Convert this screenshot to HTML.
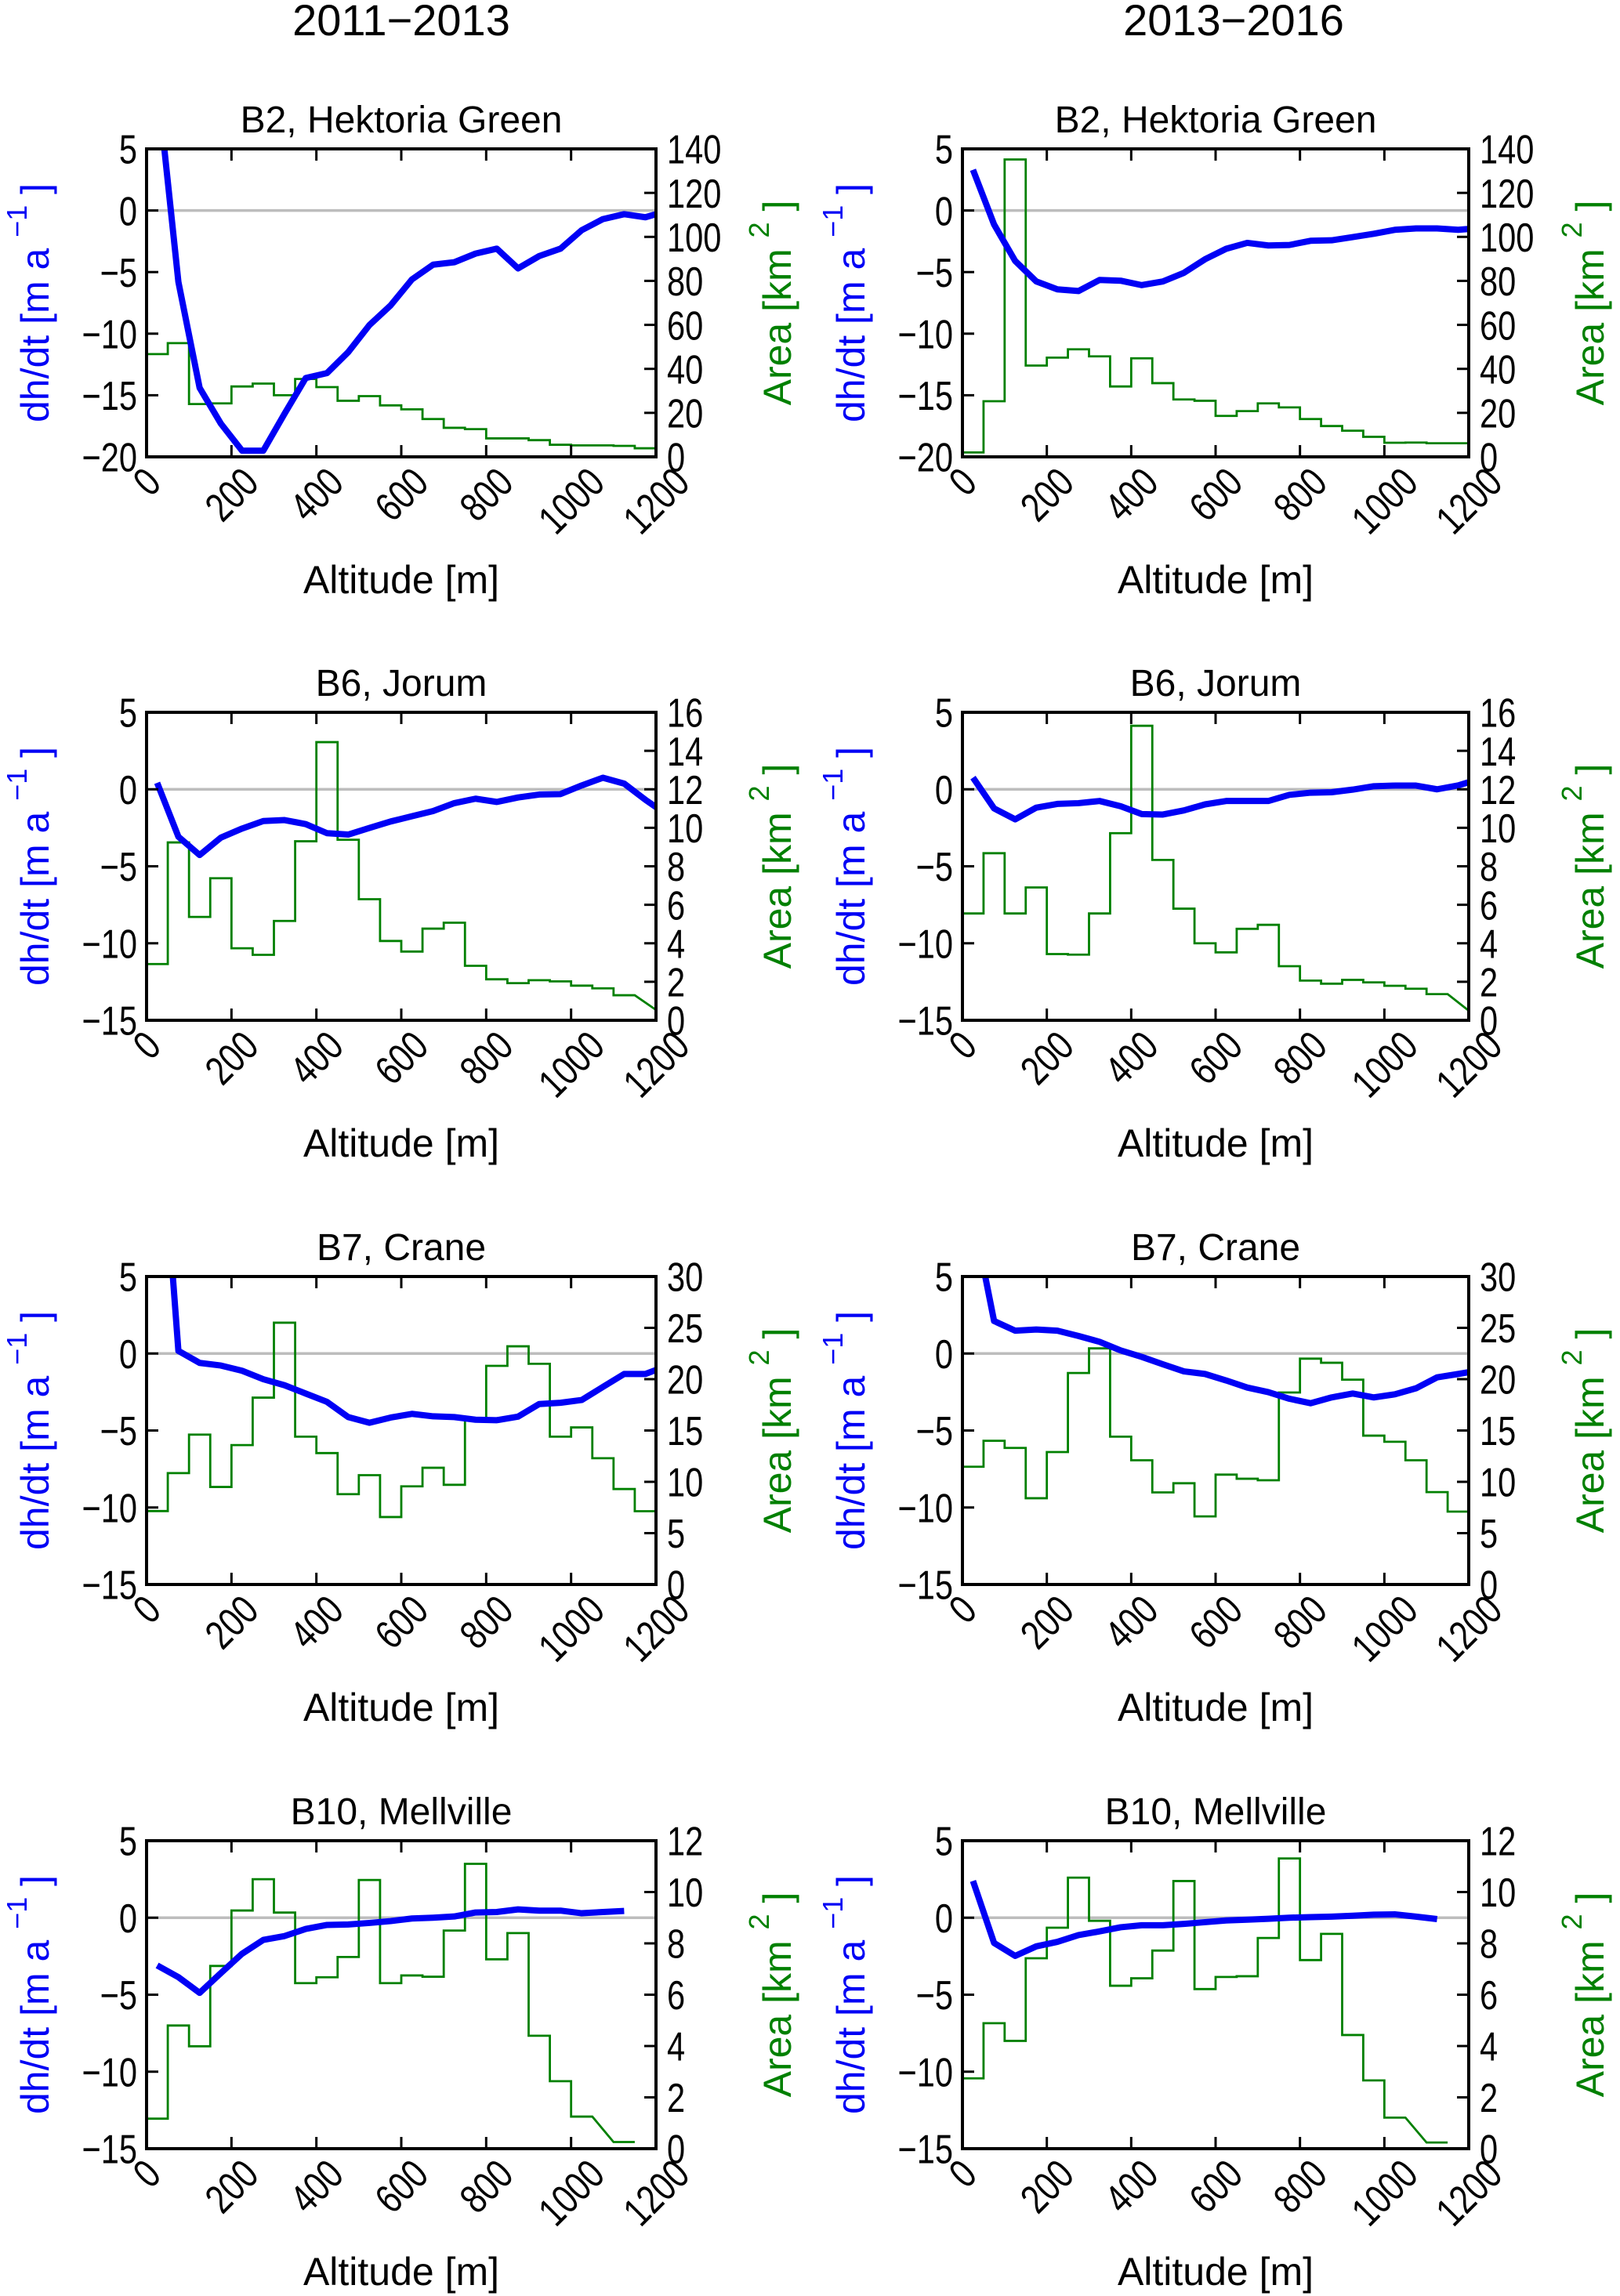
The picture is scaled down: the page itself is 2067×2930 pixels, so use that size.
<!DOCTYPE html>
<html><head><meta charset="utf-8"><title>dh/dt and area vs altitude</title>
<style>html,body{margin:0;padding:0;background:#fff}svg{display:block}text{font-family:"Liberation Sans",Arial,sans-serif}</style>
</head><body>
<svg id="fig" xmlns="http://www.w3.org/2000/svg" width="2067" height="2930" viewBox="0 0 2067 2930">
<rect width="2067" height="2930" fill="#fff"/>
<text x="512" y="45" font-size="56" text-anchor="middle">2011−2013</text>
<text x="1574" y="45" font-size="56" text-anchor="middle">2013−2016</text>
</svg>
<script>
const xTicks = [0,200,400,600,800,1000,1200];
const b2L_dh = [10.5,-5.8,-14.4,-17.3,-19.5,-19.5,-16.5,-13.6,-13.2,-11.5,-9.3,-7.7,-5.6,-4.4,-4.2,-3.5,-3.1,-4.7,-3.7,-3.1,-1.6,-0.7,-0.3,-0.55,-0.05];
const b2L_area = [46.7,51.7,24,24.3,32,33.3,28,35.4,31.7,25.5,27.6,23.4,21.6,17.2,13.2,12.6,8.4,8.4,7.6,5.5,5.2,5.2,5,3.9];
const b2R_dh = [3.3,-1.14,-4.1,-5.76,-6.4,-6.54,-5.64,-5.7,-6.06,-5.76,-5.06,-3.96,-3.11,-2.63,-2.84,-2.8,-2.46,-2.42,-2.16,-1.89,-1.57,-1.46,-1.46,-1.57,-1.43];
const b2R_area = [2.0,25.3,135.2,41.5,45.1,48.9,45.7,32,44.8,33.5,26.1,25.5,18.6,20.8,24.3,22.5,17.2,14,11.9,9.1,6.4,6.5,6.2,6.2];
const b6L_dh = [0.42,-3.08,-4.27,-3.14,-2.55,-2.06,-2.0,-2.26,-2.85,-2.94,-2.51,-2.09,-1.75,-1.41,-0.9,-0.61,-0.82,-0.53,-0.34,-0.31,0.25,0.75,0.37,-0.68,-1.64];
const b6L_area = [2.92,9.24,5.37,7.38,3.74,3.4,5.16,9.3,14.45,9.38,6.29,4.12,3.57,4.76,5.07,2.83,2.13,1.93,2.08,2.02,1.8,1.66,1.3,null];
const b6L_areaEnd = [0.54];
const b6R_dh = [0.76,-1.24,-1.95,-1.19,-0.95,-0.9,-0.76,-1.1,-1.61,-1.64,-1.37,-0.98,-0.76,-0.76,-0.76,-0.36,-0.22,-0.19,-0.02,0.2,0.24,0.24,0,0.25,0.67];
const b6R_area = [5.55,8.68,5.55,6.9,3.44,3.41,5.55,9.72,15.3,8.33,5.8,4.0,3.53,4.75,4.96,2.81,2.06,1.9,2.1,1.97,1.79,1.64,1.36,null];
const b6R_areaEnd = [0.5];
const b7L_dh = [18.6,0.17,-0.61,-0.78,-1.12,-1.67,-2.06,-2.6,-3.14,-4.13,-4.5,-4.16,-3.92,-4.08,-4.13,-4.3,-4.33,-4.1,-3.28,-3.2,-3.02,-2.17,-1.33,-1.33,-0.81];
const b7L_area = [7.15,10.85,14.6,9.5,13.58,18.2,25.5,14.4,12.8,8.8,10.65,6.57,9.56,11.37,9.71,16.1,21.3,23.2,21.5,14.4,15.3,12.3,9.3,7.14];
const b7R_dh = [9.0,2.11,1.48,1.56,1.48,1.14,0.76,0.2,-0.22,-0.7,-1.16,-1.33,-1.75,-2.21,-2.51,-2.94,-3.23,-2.85,-2.6,-2.85,-2.65,-2.26,-1.55,-1.33,-1.09];
const b7R_area = [11.47,14,13.3,8.4,12.9,20.6,23,14.4,12.1,8.97,9.86,6.63,10.7,10.3,10.15,18.7,22,21.6,19.95,14.5,13.9,12.1,9.0,7.1];
const b10L_dh = [-3.1,-3.86,-4.88,-3.6,-2.34,-1.44,-1.19,-0.73,-0.47,-0.44,-0.34,-0.22,-0.05,0,0.08,0.34,0.37,0.54,0.46,0.46,0.29,0.37,0.44];
const b10L_area = [1.17,4.8,3.99,7.12,9.28,10.5,9.2,6.45,6.68,7.47,10.47,6.45,6.75,6.7,8.5,11.1,7.38,8.4,4.4,2.63,1.25,null,0.26];
const b10R_dh = [2.39,-1.64,-2.48,-1.86,-1.57,-1.13,-0.89,-0.62,-0.49,-0.49,-0.4,-0.29,-0.18,-0.13,-0.07,0,0.04,0.07,0.13,0.2,0.22,0.07,-0.09];
const b10R_area = [2.74,4.89,4.2,7.42,8.61,10.56,8.88,6.35,6.64,7.72,10.43,6.22,6.69,6.72,8.21,11.31,7.35,8.37,4.43,2.66,1.21,null,0.24];

const NS = 'http://www.w3.org/2000/svg';
const svg = document.getElementById('fig');
function mk(tag, attrs, parent) {
  const e = document.createElementNS(NS, tag);
  for (const k in attrs) e.setAttribute(k, attrs[k]);
  (parent || svg).appendChild(e);
  return e;
}
const panels = [
  {id:'b2-2011', title:'B2, Hektoria Green', x0:187, y0:190, w:650, dh:b2L_dh, area:b2L_area, end:null, lmin:-20, rmax:140, rstep:20},
  {id:'b2-2013', title:'B2, Hektoria Green', x0:1228, y0:190, w:646, dh:b2R_dh, area:b2R_area, end:null, lmin:-20, rmax:140, rstep:20},
  {id:'b6-2011', title:'B6, Jorum', x0:187, y0:909, w:650, dh:b6L_dh, area:b6L_area, end:b6L_areaEnd, lmin:-15, rmax:16, rstep:2},
  {id:'b6-2013', title:'B6, Jorum', x0:1228, y0:909, w:646, dh:b6R_dh, area:b6R_area, end:b6R_areaEnd, lmin:-15, rmax:16, rstep:2},
  {id:'b7-2011', title:'B7, Crane', x0:187, y0:1629, w:650, dh:b7L_dh, area:b7L_area, end:null, lmin:-15, rmax:30, rstep:5},
  {id:'b7-2013', title:'B7, Crane', x0:1228, y0:1629, w:646, dh:b7R_dh, area:b7R_area, end:null, lmin:-15, rmax:30, rstep:5},
  {id:'b10-2011', title:'B10, Mellville', x0:187, y0:2349, w:650, dh:b10L_dh, area:b10L_area, end:null, lmin:-15, rmax:12, rstep:2},
  {id:'b10-2013', title:'B10, Mellville', x0:1228, y0:2349, w:646, dh:b10R_dh, area:b10R_area, end:null, lmin:-15, rmax:12, rstep:2}
];
const H = 393, FS = 52, SX = 0.8, TL = 15;
panels.forEach((p, pi) => {
  const g = mk('g', {});
  
  
  const x0 = p.x0, y0 = p.y0, w = p.w, x1 = x0 + w, y1 = y0 + H;
  const sx = v => x0 + v / 1200 * w;
  const syL = v => y1 - (v - p.lmin) / (5 - p.lmin) * H;
  const syR = v => y1 - v / p.rmax * H;
  const cp = mk('clipPath', {id: 'clip' + pi}, g);
  mk('rect', {x: x0, y: y0, width: w, height: H}, cp);
  const z = mk('line', {x1: x0, x2: x1, y1: syL(0), y2: syL(0), stroke: '#bdbdbd', 'stroke-width': 3.5}, g);
  
  
  let pts = [];
  p.area.forEach((v, i) => {
    if (v === null) return;
    pts.push([sx(i * 50), syR(v)]);
    pts.push([sx((i + 1) * 50), syR(v)]);
  });
  if (p.area[p.area.length - 1] === null && p.end) pts.push([sx(1200), syR(p.end[0])]);
  const ga = mk('polyline', {points: pts.map(q => q.join(',')).join(' '), fill: 'none', stroke: '#008000', 'stroke-width': 2.8}, g);
  
  
  const bp = p.dh.map((v, i) => [sx(25 + 50 * i), syL(v)]);
  const bl = mk('polyline', {points: bp.map(q => q.join(',')).join(' '), fill: 'none', stroke: '#0000f5', 'stroke-width': 8, 'stroke-linejoin': 'round', 'clip-path': 'url(#clip' + pi + ')'}, g);
  
  
  const fr = mk('rect', {x: x0, y: y0, width: w, height: H, fill: 'none', stroke: '#000', 'stroke-width': 4}, g);
  
  
  xTicks.forEach(t => {
    const x = sx(t);
    mk('line', {x1: x, x2: x, y1: y1, y2: y1 - TL, stroke: '#000', 'stroke-width': 3}, g);
    mk('line', {x1: x, x2: x, y1: y0, y2: y0 + TL, stroke: '#000', 'stroke-width': 3}, g);
    const s = String(t);
    const tw = s.length * 0.556 * FS * SX, th = 0.72 * FS;
    const cy = y1 + 10 + (tw + th) * 0.707 / 2;
    const tx = mk('text', {x: 0, y: 0, 'font-size': FS, 'text-anchor': 'middle', 'dominant-baseline': 'central', transform: 'translate(' + x + ' ' + cy + ') rotate(-45) scale(' + SX + ' 1)'}, g);
    
    
    tx.textContent = s;
  });
  for (let v = p.lmin; v <= 5; v += 5) {
    const y = syL(v);
    mk('line', {x1: x0, x2: x0 + TL, y1: y, y2: y, stroke: '#000', 'stroke-width': 3}, g);
    const tx = mk('text', {x: 0, y: 0, 'font-size': FS, 'text-anchor': 'end', transform: 'translate(' + (x0 - 12) + ' ' + (y + 0.36 * FS) + ') scale(' + SX + ' 1)'}, g);
    
    
    tx.textContent = v < 0 ? '−' + (-v) : String(v);
  }
  for (let v = 0; v <= p.rmax; v += p.rstep) {
    const y = syR(v);
    mk('line', {x1: x1, x2: x1 - TL, y1: y, y2: y, stroke: '#000', 'stroke-width': 3}, g);
    const tx = mk('text', {x: 0, y: 0, 'font-size': FS, transform: 'translate(' + (x1 + 14) + ' ' + (y + 0.36 * FS) + ') scale(' + SX + ' 1)'}, g);
    
    
    tx.textContent = String(v);
  }
  const tt = mk('text', {x: x0 + w / 2, y: y0 - 21, 'font-size': 48, 'text-anchor': 'middle'}, g);
  
  
  tt.textContent = p.title;
  const xl = mk('text', {x: x0 + w / 2, y: y1 + 174, 'font-size': 50, 'text-anchor': 'middle'}, g);
  
  
  xl.textContent = 'Altitude [m]';
  const cyy = y0 + H / 2;
  const lx = x0 - 125;
  const yl = mk('text', {x: lx, y: cyy, 'font-size': 50, 'text-anchor': 'middle', fill: '#0000f5', transform: 'rotate(-90 ' + lx + ' ' + cyy + ')'}, g);
  
  
  yl.innerHTML = '<tspan>dh/dt [m a </tspan><tspan dy="-28" font-size="36">−1</tspan><tspan dy="28">  ]</tspan>';
  const rx = x1 + 172;
  const yr = mk('text', {x: rx, y: cyy, 'font-size': 50, 'text-anchor': 'middle', fill: '#008000', transform: 'rotate(-90 ' + rx + ' ' + cyy + ')'}, g);
  
  
  yr.innerHTML = '<tspan>Area [km </tspan><tspan dy="-28" font-size="36">2</tspan><tspan dy="28">  ]</tspan>';
});
</script>
</body></html>
